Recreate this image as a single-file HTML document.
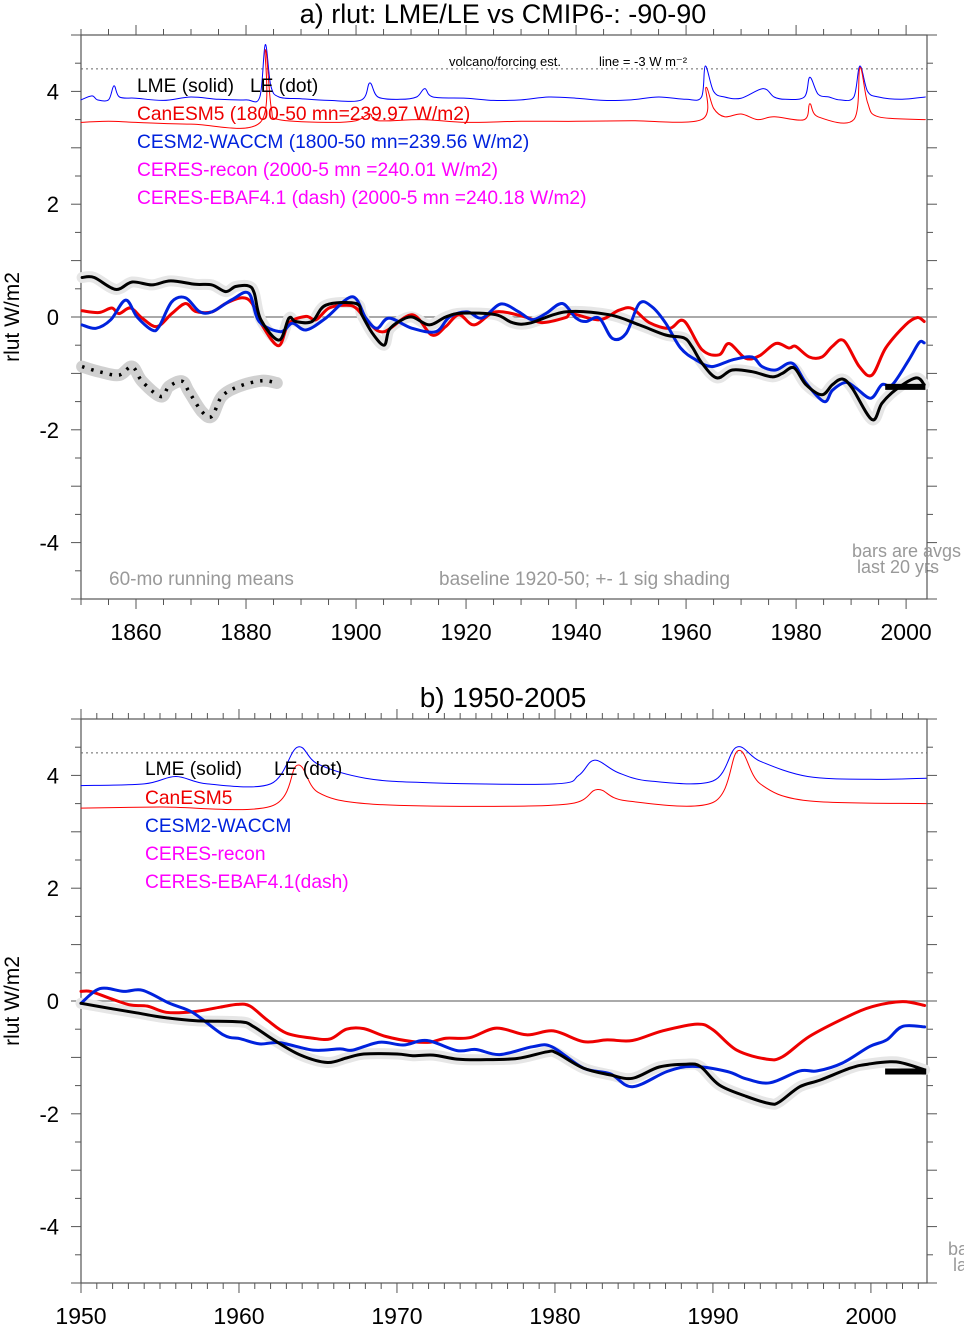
<!DOCTYPE html>
<html><head><meta charset="utf-8">
<style>
body{margin:0;background:#fff;}
svg{display:block;font-family:"Liberation Sans",sans-serif;}
</style></head>
<body>
<svg id="c" width="964" height="1325" viewBox="0 0 964 1325" xmlns="http://www.w3.org/2000/svg"></svg>
<script>
// ---------- Panel a data ----------
const aLmeYears=[1850.2,1852.4,1856.3,1859.3,1862.9,1866.3,1870.8,1873.8,1876.3,1878.1,1880.5,1881.5,1882.7,1886,1887.8,1889,1892,1894.5,1900,1901.1,1903,1905.1,1906,1907.8,1910.2,1913.3,1916.3,1919.3,1925.4,1928.4,1931.5,1938.1,1946,1951.5,1956.3,1959.6,1961.1,1962.9,1965.6,1968.4,1972,1975.6,1977.5,1979.6,1981.8,1984.7,1986.6,1988.4,1990.2,1993.8,1995.6,1998.1,2001.8,2003.3];
const aLmeVals=[0.70,0.70,0.49,0.62,0.57,0.64,0.58,0.57,0.45,0.54,0.55,0.42,-0.05,-0.41,-0.02,-0.08,-0.08,0.21,0.24,0.03,-0.29,-0.50,-0.23,-0.08,0.0,-0.14,0.0,0.07,0.04,-0.10,-0.11,0.09,0.04,-0.14,-0.32,-0.37,-0.53,-0.82,-1.08,-0.94,-0.97,-1.06,-1.0,-0.9,-1.2,-1.38,-1.2,-1.1,-1.26,-1.82,-1.53,-1.29,-1.08,-1.2];
const aRedYears=[1850.2,1853.3,1855.6,1856.9,1859,1861.1,1863.8,1866.5,1869,1870.8,1873.8,1876.3,1879.3,1881.1,1882.9,1885.9,1887.8,1890.9,1892.7,1895.1,1898.1,1900,1902.4,1905.1,1910.2,1913.8,1916.3,1918.7,1921.5,1925.4,1930.8,1933.8,1938.1,1939.2,1944.2,1947.8,1950.2,1953.3,1957,1959.6,1962.9,1966,1967.8,1970.8,1973.3,1976.3,1978.7,1979.9,1982.4,1984.7,1986.6,1988.7,1991.5,1993.8,1996.3,1999.9,2002,2003.3];
const aRedVals=[0.11,0.08,0.16,0.06,0.16,-0.02,-0.17,0.06,0.24,0.10,0.09,0.24,0.34,0.24,-0.14,-0.51,-0.11,0.01,-0.05,0.16,0.21,0.16,-0.11,-0.26,0.04,-0.32,-0.17,0.04,-0.14,0.09,0.0,-0.10,-0.01,0.06,-0.05,0.12,0.15,-0.10,-0.20,-0.07,-0.58,-0.67,-0.47,-0.73,-0.69,-0.47,-0.55,-0.52,-0.71,-0.71,-0.52,-0.42,-0.88,-1.03,-0.55,-0.14,-0.01,-0.08];
const aBlueYears=[1850.2,1852.7,1855.4,1858.1,1860.2,1862.9,1864.2,1866.5,1869,1871.5,1873.8,1877.5,1880.5,1882.4,1886.3,1888.4,1890.9,1894.5,1899.3,1901.8,1903.8,1906,1910.2,1914.5,1917,1920.2,1922.9,1926.3,1929.6,1932,1934.5,1937.5,1940,1941.8,1944.2,1946.6,1949.1,1951.5,1953.8,1956.3,1959,1961.8,1964.7,1968.4,1972,1973.8,1976.3,1979.3,1981.8,1985.1,1986.6,1989,1990.9,1993.6,1995.6,1997.5,2000.5,2002.4,2003.3];
const aBlueVals=[-0.14,-0.20,-0.05,0.30,0.0,-0.23,-0.17,0.27,0.34,0.10,0.09,0.31,0.42,-0.08,-0.26,-0.11,-0.23,-0.02,0.36,-0.02,-0.20,-0.02,-0.20,-0.26,0.0,0.09,-0.02,0.23,0.09,-0.05,0.06,0.24,-0.02,-0.08,-0.02,-0.38,-0.29,0.24,0.18,-0.11,-0.55,-0.76,-0.88,-0.76,-0.71,-0.88,-0.94,-0.82,-1.17,-1.50,-1.30,-1.16,-1.26,-1.44,-1.20,-1.20,-0.76,-0.45,-0.46];
const aLeYears=[1850.2,1853.3,1856.9,1859.3,1861.1,1864.5,1866,1868.4,1869.6,1872,1873.8,1875.6,1878.7,1882.9,1885.6];
const aLeVals=[-0.88,-0.97,-1.03,-0.88,-1.14,-1.41,-1.23,-1.14,-1.32,-1.68,-1.76,-1.41,-1.23,-1.13,-1.17];
const aVolBlueYears=[1850,1852,1853,1855,1856,1857,1860,1865,1870,1875,1880,1882.5,1883.5,1884.5,1886,1890,1895,1901,1902.5,1904,1908,1911,1912.5,1914,1920,1925,1930,1935,1940,1945,1950,1955,1960,1962.8,1963.5,1965,1967,1970,1974,1976,1978,1981.5,1982.5,1984,1986,1988,1990.5,1991.6,1993,1995,1999,2003.5];
const aVolBlueVals=[3.85,3.92,3.85,3.85,4.1,3.9,3.88,3.84,3.9,3.86,3.85,3.9,4.83,4.1,3.9,3.87,3.84,3.85,4.15,3.9,3.86,3.9,4.05,3.9,3.88,3.84,3.85,3.9,3.88,3.84,3.85,3.9,3.86,3.9,4.45,4.0,3.9,3.88,4.05,3.9,3.86,3.9,4.25,3.95,3.9,3.85,3.9,4.45,4.0,3.9,3.86,3.9];
const aVolRedYears=[1850,1855,1860,1870,1882.6,1883.5,1884.6,1886,1895,1900,1902.5,1904,1912,1920,1930,1940,1950,1962.8,1963.6,1965,1967,1970,1973,1976,1981.5,1982.5,1984,1990.5,1991.6,1993,1995,2003.5];
const aVolRedVals=[3.45,3.47,3.45,3.42,3.45,4.74,3.7,3.5,3.45,3.48,3.6,3.48,3.5,3.45,3.47,3.47,3.48,3.5,4.07,3.7,3.55,3.6,3.5,3.55,3.5,3.78,3.55,3.5,4.42,3.8,3.55,3.5];
const aBar=[1996.2,2003.5,-1.24];
// ---------- Panel b data ----------
const bLmeYears=[1950,1951.8,1953.5,1955.2,1957.3,1960.1,1960.9,1962.2,1963.9,1965.6,1966.8,1967.9,1970,1971,1972.3,1973.8,1975.3,1977.6,1979.5,1980.1,1981.8,1983.5,1984.9,1986.6,1988.3,1989.2,1990.4,1992.1,1993.6,1994.2,1995.5,1996.8,1998.7,1999.8,2001.6,2003.4];
const bLmeVals=[-0.04,-0.13,-0.21,-0.29,-0.35,-0.37,-0.45,-0.69,-0.96,-1.09,-1.01,-0.94,-0.94,-0.97,-0.96,-1.03,-1.04,-1.02,-0.90,-0.92,-1.19,-1.31,-1.37,-1.17,-1.12,-1.16,-1.49,-1.69,-1.82,-1.79,-1.52,-1.40,-1.19,-1.12,-1.08,-1.22];
const bRedYears=[1950,1950.6,1951.8,1953.1,1954.2,1955.4,1957.1,1958.8,1959.9,1960.7,1961.8,1963,1964.7,1965.8,1966.8,1967.9,1969.3,1971,1972.1,1973.1,1974.6,1976.3,1978.2,1979.9,1981.8,1983.3,1984.9,1986.8,1989,1990,1991.5,1993.4,1994.4,1996.1,1998.5,2000.1,2002,2003.4];
const bRedVals=[0.17,0.17,0.05,-0.07,-0.09,-0.20,-0.19,-0.11,-0.06,-0.09,-0.34,-0.57,-0.66,-0.67,-0.50,-0.49,-0.63,-0.72,-0.73,-0.66,-0.65,-0.48,-0.60,-0.53,-0.72,-0.69,-0.70,-0.53,-0.41,-0.51,-0.87,-1.03,-0.99,-0.63,-0.28,-0.10,-0.01,-0.08];
const bBlueYears=[1950,1951.2,1952.7,1953.9,1955.6,1957.1,1959,1960.1,1961.3,1962.6,1964.7,1966.4,1967.2,1968.9,1970.4,1971.9,1973.8,1975,1976.5,1978.6,1979.8,1981.8,1983.5,1984.9,1987.1,1988.7,1990.9,1992.1,1993.6,1995.5,1996.6,1998.2,1999.9,2001,2002,2003.4];
const bBlueVals=[-0.04,0.22,0.17,0.19,-0.04,-0.21,-0.60,-0.67,-0.76,-0.74,-0.87,-0.85,-0.87,-0.73,-0.78,-0.70,-0.88,-0.86,-0.95,-0.81,-0.81,-1.19,-1.29,-1.52,-1.25,-1.16,-1.25,-1.38,-1.45,-1.24,-1.24,-1.10,-0.81,-0.69,-0.45,-0.46];
const bVolBlueYears=[1950,1954,1956,1958,1962,1963.7,1965,1968,1972,1980,1981.5,1982.5,1984,1986,1990,1991.5,1993,1996,2000,2003.5];
const bVolBlueVals=[3.82,3.85,3.98,3.85,3.85,4.5,4.2,3.95,3.87,3.85,4.0,4.27,4.05,3.9,3.9,4.5,4.25,3.98,3.93,3.95];
const bVolRedYears=[1950,1955,1962,1963.7,1965,1968,1975,1981,1982.7,1984.5,1990,1991.6,1993,1996,2003.5];
const bVolRedVals=[3.42,3.44,3.45,4.18,3.7,3.5,3.45,3.5,3.75,3.55,3.52,4.44,3.85,3.55,3.5];
const bBar=[2000.9,2003.5,-1.25];
const yTicks=[-4,-2,0,2,4];

const NS="http://www.w3.org/2000/svg";
const svg=document.getElementById('c');
function mk(tag,attrs,parent){const e=document.createElementNS(NS,tag);for(const k in attrs)e.setAttribute(k,attrs[k]);(parent||svg).appendChild(e);return e;}
function txt(s,x,y,size,fill,anchor,parent){const t=mk('text',{x:x,y:y,'font-size':size,fill:fill,'text-anchor':anchor||'start'},parent);t.textContent=s;return t;}

function smoothPath(pts){
  let d='M'+pts[0][0].toFixed(1)+','+pts[0][1].toFixed(1);
  for(let i=0;i<pts.length-1;i++){
    const p0=pts[Math.max(0,i-1)],p1=pts[i],p2=pts[i+1],p3=pts[Math.min(pts.length-1,i+2)];
    const c1x=p1[0]+(p2[0]-p0[0])/6,c1y=p1[1]+(p2[1]-p0[1])/6;
    const c2x=p2[0]-(p3[0]-p1[0])/6,c2y=p2[1]-(p3[1]-p1[1])/6;
    d+=' C'+c1x.toFixed(1)+','+c1y.toFixed(1)+' '+c2x.toFixed(1)+','+c2y.toFixed(1)+' '+p2[0].toFixed(1)+','+p2[1].toFixed(1);
  }
  return d;
}

function panel(P){
  const g=mk('g',{});
  
  
  const X=v=>P.x0+(v-P.xmin)/(P.xmax-P.xmin)*(P.x1-P.x0);
  const Y=v=>P.y0+(5-v)/10*(P.y1-P.y0);
  const line=(ys,vs,attrs,name)=>{const pts=ys.map((yr,i)=>[X(yr),Y(vs[i])]);const p=mk('path',Object.assign({d:smoothPath(pts),fill:'none','stroke-linejoin':'round','stroke-linecap':'round'},attrs),g);
    
    return p;};
  const fr=mk('rect',{x:P.x0,y:P.y0,width:P.x1-P.x0,height:P.y1-P.y0,fill:'none',stroke:'#555','stroke-width':1.2},g);
  
  
  for(let yr=P.xmin;yr<=P.xmax+0.01;yr+=P.minor){
    const major=Math.abs(yr%P.major)<0.01;const x=X(yr),L=major?10:6;
    mk('line',{x1:x,y1:P.y1,x2:x,y2:P.y1+L,stroke:'#555','stroke-width':1},g);
    mk('line',{x1:x,y1:P.y0,x2:x,y2:P.y0-L,stroke:'#555','stroke-width':1},g);
    if(major){const t=txt(String(yr),x,P.y1+41,23,'#000','middle',g);
      
      }
  }
  for(let v=-5;v<=5.01;v+=0.5){
    const major=Math.abs(v%1)<0.01;const y=Y(v),L=major?10:6;
    mk('line',{x1:P.x0,y1:y,x2:P.x0-L,y2:y,stroke:'#555','stroke-width':1},g);
    mk('line',{x1:P.x1,y1:y,x2:P.x1+L,y2:y,stroke:'#555','stroke-width':1},g);
  }
  yTicks.forEach(v=>{const t=txt(String(v),P.x0-22,Y(v)+8,22,'#000','end',g);
    
    });
  const yl=txt('rlut W/m2',0,0,21,'#000','middle',g);
  yl.setAttribute('transform','translate(19,'+Y(0)+') rotate(-90)');
  
  
  const z=mk('line',{x1:P.x0,y1:Y(0),x2:P.x1,y2:Y(0),stroke:'#777','stroke-width':1.3},g);
  
  
  const dl=mk('line',{x1:P.x0,y1:Y(4.4),x2:P.x1,y2:Y(4.4),stroke:'#666','stroke-width':1,'stroke-dasharray':'2,3'},g);
  
  
  line(P.vbY,P.vbV,{stroke:'#0000ff','stroke-width':1},'volcano-cesm2');
  line(P.vrY,P.vrV,{stroke:'#ff0000','stroke-width':1},'volcano-canesm5');
  line(P.lmeY,P.lmeV,{stroke:'#e6e6e6','stroke-width':11},'lme-shading');
  if(P.leY){line(P.leY,P.leV,{stroke:'#d0d0d0','stroke-width':12},'le-shading');
    line(P.leY,P.leV,{stroke:'#000','stroke-width':3.5,'stroke-dasharray':'2.5,7','stroke-linecap':'butt'},'le-dotted-line');}
  line(P.redY,P.redV,{stroke:'#ee0000','stroke-width':3},'canesm5-line');
  line(P.blueY,P.blueV,{stroke:'#0022dd','stroke-width':3},'cesm2-waccm-line');
  line(P.lmeY,P.lmeV,{stroke:'#000','stroke-width':3},'lme-line');
  const b=mk('line',{x1:X(P.bar[0]),y1:Y(P.bar[2]),x2:X(P.bar[1]),y2:Y(P.bar[2]),stroke:'#000','stroke-width':6},g);
  
  
  return g;
}

panel({name:'panel-a',x0:81,x1:927,y0:35,y1:599,xmin:1850,xmax:2003.8,minor:5,major:20,
  lmeY:aLmeYears,lmeV:aLmeVals,redY:aRedYears,redV:aRedVals,blueY:aBlueYears,blueV:aBlueVals,leY:aLeYears,leV:aLeVals,
  vbY:aVolBlueYears,vbV:aVolBlueVals,vrY:aVolRedYears,vrV:aVolRedVals,bar:aBar});
panel({name:'panel-b',x0:81,x1:927,y0:719,y1:1283,xmin:1950,xmax:2003.55,minor:1,major:10,
  lmeY:bLmeYears,lmeV:bLmeVals,redY:bRedYears,redV:bRedVals,blueY:bBlueYears,blueV:bBlueVals,
  vbY:bVolBlueYears,vbV:bVolBlueVals,vrY:bVolRedYears,vrV:bVolRedVals,bar:bBar});

const labels=[
 ['a) rlut: LME/LE vs CMIP6-: -90-90',503,23,27,'#000','middle','title-a'],
 ['volcano/forcing est.',449,66,13,'#000','start','volcano-label'],
 ['line = -3 W m\u207B\u00B2',599,66,13,'#000','start','volcano-line-label'],
 ['LME (solid)',137,92,19.2,'#000','start','legend-lme'],
 ['LE (dot)',250,92,19.2,'#000','start','legend-le'],
 ['CanESM5 (1800-50 mn=239.97 W/m2)',137,120,19.2,'#ee0000','start','legend-canesm5'],
 ['CESM2-WACCM (1800-50 mn=239.56 W/m2)',137,148,19.2,'#0022dd','start','legend-cesm2'],
 ['CERES-recon (2000-5 mn =240.01 W/m2)',137,176,19.2,'#ff00ff','start','legend-ceres-recon'],
 ['CERES-EBAF4.1 (dash) (2000-5 mn =240.18 W/m2)',137,204,19.2,'#ff00ff','start','legend-ceres-ebaf'],
 ['60-mo running means',109,585,19,'#999','start','note-running-means'],
 ['baseline 1920-50; +- 1 sig shading',439,585,19,'#999','start','note-baseline'],
 ['bars are avgs',852,557,18,'#999','start','note-bars'],
 ['last 20 yrs',857,573,18,'#999','start','note-last20'],
 ['b) 1950-2005',503,707,28,'#000','middle','title-b'],
 ['LME (solid)',145,775,19.2,'#000','start','legend-b-lme'],
 ['LE (dot)',274,775,19.2,'#000','start','legend-b-le'],
 ['CanESM5',145,804,19.2,'#ee0000','start','legend-b-canesm5'],
 ['CESM2-WACCM',145,832,19.2,'#0022dd','start','legend-b-cesm2'],
 ['CERES-recon',145,860,19.2,'#ff00ff','start','legend-b-ceres-recon'],
 ['CERES-EBAF4.1(dash)',145,888,19.2,'#ff00ff','start','legend-b-ceres-ebaf'],
 ['ba',948,1255,18,'#999','start','note-b-bars'],
 ['la',953,1271,18,'#999','start','note-b-last']
];
labels.forEach(l=>{const t=txt(l[0],l[1],l[2],l[3],l[4],l[5]);
  
  });
</script>
</body></html>
